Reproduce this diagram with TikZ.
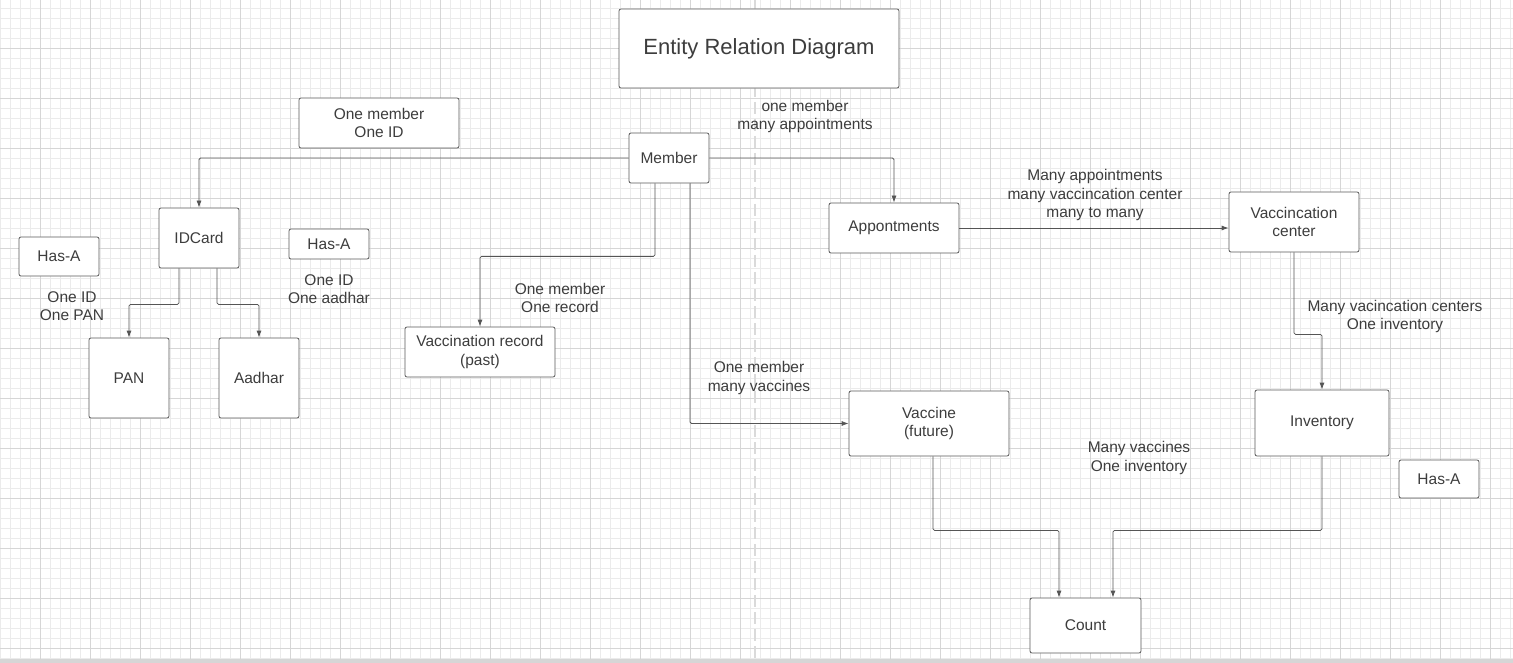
\documentclass[tikz,border=0pt]{standalone}
\usepackage{fontspec}
\setmainfont{Liberation Sans}
\usetikzlibrary{arrows.meta}
\definecolor{gridminor}{HTML}{EBEBEB}
\definecolor{gridmajor}{HTML}{D6D6D6}
\definecolor{boxline}{HTML}{5A5A5A}
\definecolor{txt}{HTML}{3D3D3D}
\definecolor{conn}{HTML}{555555}
\definecolor{dashc}{HTML}{DADADA}
\tikzset{
  ent/.style={draw=boxline, fill=white, line width=0.8pt, rounded corners=2pt,
    text=txt, align=center, inner sep=0pt,
    font=\fontsize{15.5}{18.5}\selectfont},
  lbl/.style={text=txt, align=center, inner sep=0pt,
    font=\fontsize{15.5}{18.5}\selectfont},
  link/.style={draw=conn, line width=0.8pt, rounded corners=1.5pt,
    -{Latex[length=7pt,width=5pt]}}
}
\begin{document}
\begin{tikzpicture}[x=1pt,y=-1pt]
\useasboundingbox (0,0) rectangle (1513,663);
\fill[white] (0,0) rectangle (1513,663);
% grid
\foreach \x in {0,10,...,1510} \draw[gridminor, line width=0.7pt] (\x,0) -- (\x,663);
\foreach \y in {8,18,...,658} \draw[gridminor, line width=0.7pt] (0,\y) -- (1513,\y);
\foreach \x in {40,90,...,1490} \draw[gridmajor, line width=0.9pt] (\x,0) -- (\x,663);
\foreach \y in {48,98,...,648} \draw[gridmajor, line width=0.9pt] (0,\y) -- (1513,\y);
\fill[gridmajor] (0,659) rectangle (1513,663);
% dashed separator
\draw[dashc, line width=2.5pt, dash pattern=on 12pt off 5pt] (755,0) -- (755,659);

% entities
\node[ent, minimum width=280pt, minimum height=79pt, font=\fontsize{22}{26}\selectfont] (title) at (759,48.5) {Entity Relation Diagram};
\node[ent, minimum width=160pt, minimum height=50pt] (noteid) at (379,123) {One member\\One ID};
\node[ent, minimum width=80pt, minimum height=50pt] (member) at (669,158) {Member};
\node[ent, minimum width=80pt, minimum height=60pt] (idcard) at (199,238) {IDCard};
\node[ent, minimum width=80pt, minimum height=39pt] (hasa1) at (59,256.5) {Has-A};
\node[ent, minimum width=80pt, minimum height=30pt] (hasa2) at (329,244) {Has-A};
\node[ent, minimum width=80pt, minimum height=80pt] (pan) at (129,378) {PAN};
\node[ent, minimum width=80pt, minimum height=80pt] (aadhar) at (259,378) {Aadhar};
\node[ent, minimum width=150pt, minimum height=50pt] (vrec) at (480,352) {Vaccination record\\(past)};
\node[ent, minimum width=160pt, minimum height=65pt] (vaccine) at (929,423.5) {Vaccine\\(future)};
\node[ent, minimum width=130pt, minimum height=50pt] (appt) at (894,228) {Appontments};
\node[ent, minimum width=130pt, minimum height=60pt] (vcenter) at (1294,222) {Vaccincation\\center};
\node[ent, minimum width=134pt, minimum height=66pt] (inventory) at (1322,423) {Inventory};
\node[ent, minimum width=80pt, minimum height=38pt] (hasa3) at (1439,479) {Has-A};
\node[ent, minimum width=111pt, minimum height=55pt] (count) at (1085.5,625.5) {Count};

% labels
\node[lbl] (l1) at (805,116.5) {one member\\many appointments};
\node[lbl] (l2) at (72,306) {One ID\\One PAN};
\node[lbl] (l3) at (329,289) {One ID\\One aadhar};
\node[lbl] (l4) at (560,298) {One member\\One record};
\node[lbl] (l5) at (759,378) {One member\\many vaccines};
\node[lbl] (l6) at (1095,195) {Many appointments\\many vaccincation center\\many to many};
\node[lbl] (l7) at (1395,316.5) {Many vacincation centers\\One inventory};
\node[lbl] (l8) at (1139,458) {Many vaccines\\One inventory};

% connectors
\draw[link] (member.west) -| (idcard.north);
\draw[link] ([xshift=-20pt]idcard.south) -- ++(0,36) -| (pan.north);
\draw[link] ([xshift=18pt]idcard.south) -- ++(0,36) -| (aadhar.north);
\draw[link] ([xshift=-14pt]member.south) -- ++(0,73) -| (vrec.north);
\draw[link] ([xshift=21pt]member.south) |- (vaccine.west);
\draw[link] (member.east) -| (appt.north);
\draw[link] (appt.east) -- (appt.east -| vcenter.west);
\draw[link] (vcenter.south) -- ++(0,82) -| (inventory.north);
\draw[link] ([xshift=4pt]vaccine.south) -- ++(0,74) -| ([xshift=-26.5pt]count.north);
\draw[link] (inventory.south) -- ++(0,74) -| ([xshift=27.5pt]count.north);
\end{tikzpicture}
\end{document}
